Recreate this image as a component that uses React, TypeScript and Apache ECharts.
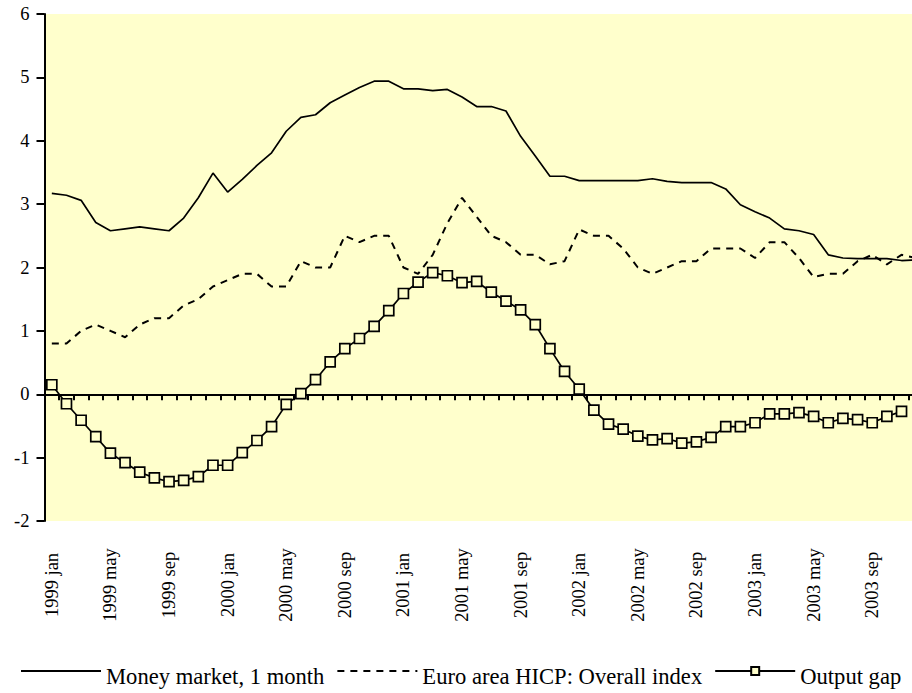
import React, { useEffect, useRef } from "react";
import * as echarts from "echarts";

const years = [1999, 2000, 2001, 2002, 2003];
const months = ["jan", "feb", "mar", "apr", "may", "jun", "jul", "aug", "sep", "oct", "nov", "dec"];
const categories: string[] = years.flatMap((y) => months.map((m) => `${y} ${m}`));

const moneyMarket = [
  3.17, 3.14, 3.06, 2.71, 2.58, 2.61, 2.64, 2.61, 2.58, 2.78, 3.1, 3.49,
  3.19, 3.39, 3.61, 3.81, 4.15, 4.37, 4.41, 4.6, 4.72, 4.84, 4.94, 4.94,
  4.82, 4.82, 4.79, 4.81, 4.69, 4.54, 4.54, 4.47, 4.07, 3.76, 3.44, 3.44,
  3.37, 3.37, 3.37, 3.37, 3.37, 3.4, 3.36, 3.34, 3.34, 3.34, 3.24, 2.99,
  2.88, 2.78, 2.61, 2.58, 2.52, 2.2, 2.15, 2.14, 2.14, 2.14, 2.11, 2.12,
];

const hicp = [
  0.8, 0.8, 1.0, 1.1, 1.0, 0.9, 1.1, 1.2, 1.2, 1.4, 1.5, 1.7,
  1.8, 1.9, 1.9, 1.7, 1.7, 2.1, 2.0, 2.0, 2.5, 2.4, 2.5, 2.5,
  2.0, 1.9, 2.2, 2.7, 3.1, 2.8, 2.5, 2.4, 2.2, 2.2, 2.05, 2.1,
  2.6, 2.5, 2.5, 2.3, 2.0, 1.9, 2.0, 2.1, 2.1, 2.3, 2.3, 2.3,
  2.15, 2.4, 2.4, 2.15, 1.85, 1.9, 1.9, 2.1, 2.2, 2.05, 2.2, 2.15,
];

const outputGap: (number | null)[] = [
  0.15, -0.15, -0.41, -0.67, -0.93, -1.08, -1.23, -1.32, -1.38, -1.36, -1.3, -1.12,
  -1.12, -0.92, -0.73, -0.51, -0.16, 0.01, 0.23, 0.51, 0.72, 0.88, 1.07, 1.32,
  1.59, 1.77, 1.92, 1.87, 1.76, 1.78, 1.61, 1.47, 1.33, 1.1, 0.72, 0.36,
  0.08, -0.25, -0.47, -0.55, -0.66, -0.72, -0.7, -0.77, -0.75, -0.68, -0.51, -0.51,
  -0.45, -0.31, -0.31, -0.29, -0.35, -0.45, -0.38, -0.4, -0.45, -0.35, -0.27, null,
];

const seriesNames = ["Money market, 1 month", "Euro area HICP: Overall index", "Output gap"];

const FONT = "Liberation Serif";
const BG = "#FFFFCC";

export default function App() {
  const ref = useRef<HTMLDivElement>(null);

  useEffect(() => {
    if (!ref.current) return;
    const chart = echarts.init(ref.current, undefined, { renderer: "svg" });
    chart.setOption({
      animation: false,
      backgroundColor: "#ffffff",
      textStyle: { fontFamily: FONT, color: "#000" },
      grid: {
        left: 44.5,
        top: 14,
        width: 879,
        bottom: 172,
        show: true,
        backgroundColor: BG,
        borderWidth: 0,
        containLabel: false,
        outerBoundsMode: "none",
      },
      legend: {
        left: 15,
        top: 660,
        itemWidth: 80,
        itemHeight: 10,
        itemGap: 12,
        formatter: (name: string) => `{t|${name}}`,
        textStyle: {
          fontFamily: FONT,
          fontSize: 22.6,
          color: "#000",
          rich: {
            t: {
              fontFamily: FONT,
              fontSize: 22.6,
              color: "#000",
              padding: [11, 0, 0, 0],
            },
          },
        },
        data: [
          { name: seriesNames[0], itemStyle: { opacity: 0 } },
          { name: seriesNames[1], itemStyle: { opacity: 0 } },
          { name: seriesNames[2] },
        ],
      },
      xAxis: {
        type: "category",
        data: categories,
        axisLine: { show: true, onZero: true, lineStyle: { color: "#000", width: 2 } },
        axisTick: { show: true, interval: 0, length: 6, lineStyle: { color: "#000", width: 2 } },
        axisLabel: {
          interval: 3,
          rotate: 90,
          align: "center",
          verticalAlign: "middle",
          margin: 64,
          fontFamily: FONT,
          fontSize: 18.5,
          color: "#000",
        },
        splitLine: { show: false },
      },
      yAxis: {
        type: "value",
        min: -2,
        max: 6,
        interval: 1,
        axisLine: { show: true, lineStyle: { color: "#000", width: 2 } },
        axisTick: { show: true, length: 8, lineStyle: { color: "#000", width: 2 } },
        axisLabel: { fontFamily: FONT, fontSize: 18.5, color: "#000", margin: 15 },
        splitLine: { show: false },
      },
      series: [
        {
          name: seriesNames[0],
          type: "line",
          data: moneyMarket,
          symbol: "none",
          lineStyle: { color: "#000", width: 1.7 },
          itemStyle: { color: "#000" },
        },
        {
          name: seriesNames[1],
          type: "line",
          data: hicp,
          symbol: "none",
          lineStyle: { color: "#000", width: 2, type: [7, 6] },
          itemStyle: { color: "#000" },
        },
        {
          name: seriesNames[2],
          type: "line",
          data: outputGap,
          symbol: "rect",
          symbolSize: 10,
          showAllSymbol: true,
          lineStyle: { color: "#000", width: 1.7 },
          itemStyle: { color: BG, borderColor: "#000", borderWidth: 1.7 },
        },
      ],
    });
    return () => chart.dispose();
  }, []);

  return (
    <div
      ref={ref}
      style={{ position: "fixed", left: 0, top: 0, width: 930, height: 693 }}
    />
  );
}
